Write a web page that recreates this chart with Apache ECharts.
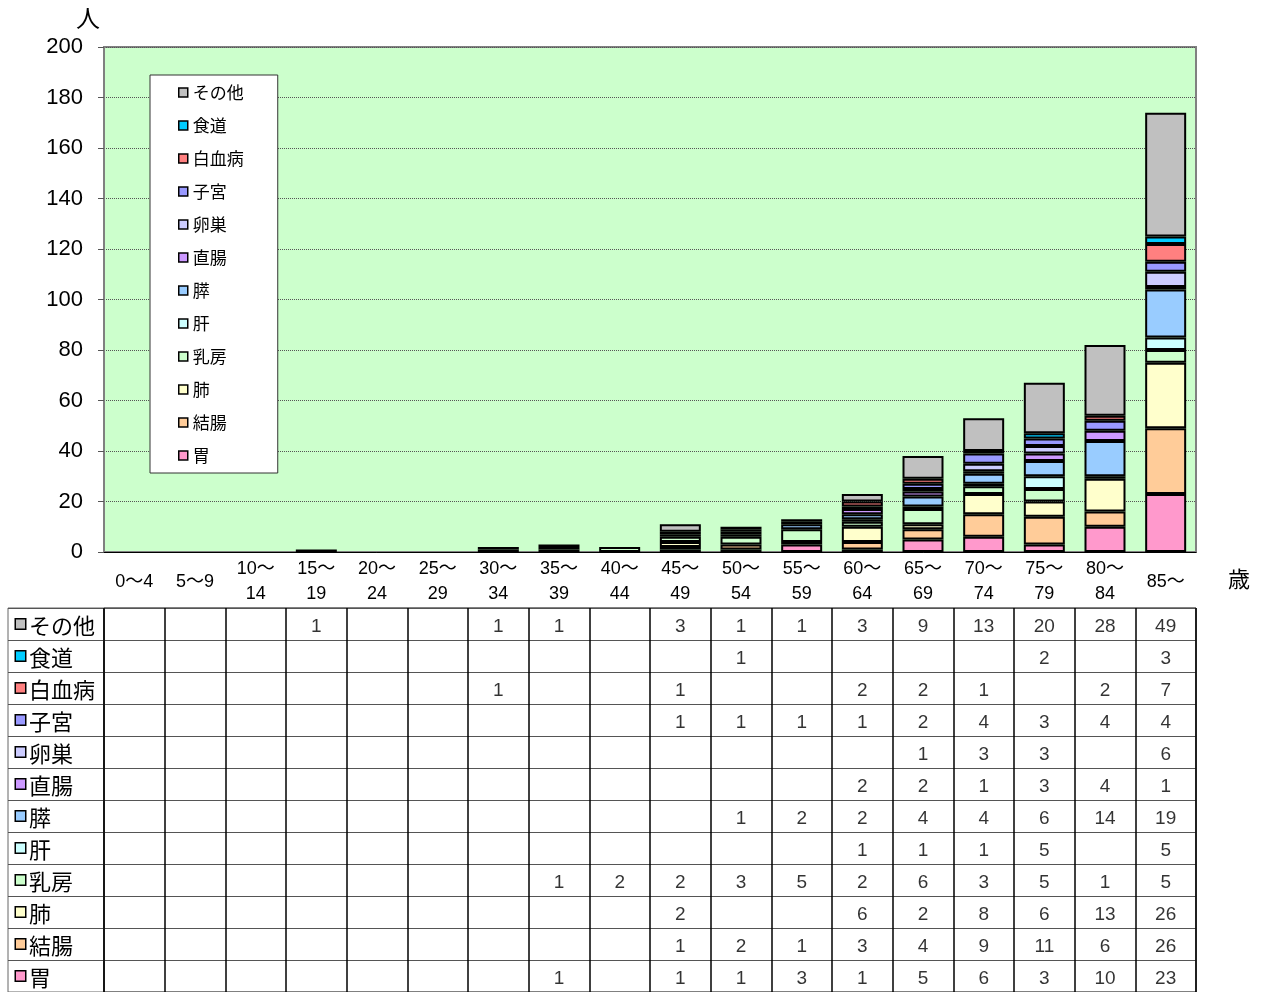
<!DOCTYPE html>
<html>
<head>
<meta charset="utf-8">
<script src="https://cdn.jsdelivr.net/npm/echarts@6/dist/echarts.min.js"></script>
<style>
  html, body { margin: 0; padding: 0; background: #fff; }
  #chart { width: 1267px; height: 992px; }
</style>
</head>
<body>
<div id="chart"></div>
<script>
const _ = null;

// 年齢階級
const ages = ["0〜4", "5〜9", "10〜14", "15〜19", "20〜24", "25〜29", "30〜34", "35〜39", "40〜44",
  "45〜49", "50〜54", "55〜59", "60〜64", "65〜69", "70〜74", "75〜79", "80〜84", "85〜"];
const ageLabels = ["0〜4", "5〜9", "10〜\n14", "15〜\n19", "20〜\n24", "25〜\n29", "30〜\n34", "35〜\n39", "40〜\n44",
  "45〜\n49", "50〜\n54", "55〜\n59", "60〜\n64", "65〜\n69", "70〜\n74", "75〜\n79", "80〜\n84", "85〜"];

// 部位別（人）
const sonota   = [_, _, _, 1, _, _, 1, 1, _, 3, 1, 1, 3, 9, 13, 20, 28, 49];
const shokudo  = [_, _, _, _, _, _, _, _, _, _, 1, _, _, _, _, 2, _, 3];
const hakketsu = [_, _, _, _, _, _, 1, _, _, 1, _, _, 2, 2, 1, _, 2, 7];
const shikyu   = [_, _, _, _, _, _, _, _, _, 1, 1, 1, 1, 2, 4, 3, 4, 4];
const ransou   = [_, _, _, _, _, _, _, _, _, _, _, _, _, 1, 3, 3, _, 6];
const chokucho = [_, _, _, _, _, _, _, _, _, _, _, _, 2, 2, 1, 3, 4, 1];
const sui      = [_, _, _, _, _, _, _, _, _, _, 1, 2, 2, 4, 4, 6, 14, 19];
const kan      = [_, _, _, _, _, _, _, _, _, _, _, _, 1, 1, 1, 5, _, 5];
const nyubo    = [_, _, _, _, _, _, _, 1, 2, 2, 3, 5, 2, 6, 3, 5, 1, 5];
const hai      = [_, _, _, _, _, _, _, _, _, 2, _, _, 6, 2, 8, 6, 13, 26];
const ketcho   = [_, _, _, _, _, _, _, _, _, 1, 2, 1, 3, 4, 9, 11, 6, 26];
const i_       = [_, _, _, _, _, _, _, 1, _, 1, 1, 3, 1, 5, 6, 3, 10, 23];

// 表・凡例の並び（上から）
const names  = ["その他", "食道", "白血病", "子宮", "卵巣", "直腸", "膵", "肝", "乳房", "肺", "結腸", "胃"];
const values = [sonota, shokudo, hakketsu, shikyu, ransou, chokucho, sui, kan, nyubo, hai, ketcho, i_];
const colors = ["#c0c0c0", "#00ccff", "#ff8080", "#9999ff", "#ccccff", "#cc99ff",
  "#99ccff", "#ccffff", "#ccffcc", "#ffffcc", "#ffcc99", "#ff99cc"];

const font = "'Liberation Sans', 'Noto Sans CJK JP', sans-serif";
const jpFont = "'Noto Sans CJK JP', sans-serif";

let chart = echarts.init(document.getElementById("chart"));

// 積み上げ（下から胃）
let barSeries = [];
for (let k = names.length - 1; k >= 0; k--) {
  barSeries.push({
    name: names[k],
    type: "bar",
    stack: "total",
    xAxisIndex: 0,
    yAxisIndex: 0,
    barWidth: 41,
    data: values[k],
    itemStyle: { color: colors[k], borderColor: "#000", borderWidth: 2 },
  });
}

// 表のセル
let cells = [];
values.forEach((row, r) => {
  row.forEach((v, c) => {
    if (v !== null) cells.push([c, r, v]);
  });
});

let rich = { t: { fontSize: 22, fontFamily: jpFont, color: "#000", padding: [3, 0, 0, 4] } };
colors.forEach((c, k) => {
  rich["c" + k] = { width: 9, height: 9, backgroundColor: c, borderColor: "#000", borderWidth: 1.5 };
});

let option = {
  animation: false,
  backgroundColor: "#fff",
  grid: [
    { left: 104, top: 47, width: 1092, height: 505, show: true, backgroundColor: "#ccffcc", borderColor: "#808080", borderWidth: 2 },
    { left: 8, top: 608, width: 96, height: 389, show: true, borderColor: "#666", borderWidth: 1 },
    { left: 104, top: 608, width: 1092, height: 389, show: true, borderColor: "#000", borderWidth: 1 },
  ],
  legend: {
    left: 150,
    top: 75,
    orient: "vertical",
    data: names,
    backgroundColor: "#fff",
    borderColor: "#333",
    borderWidth: 1,
    padding: [9, 34, 9, 28],
    itemGap: 16,
    itemWidth: 9,
    itemHeight: 9,
    icon: "rect",
    itemStyle: { borderColor: "#000", borderWidth: 1.5 },
    textStyle: { fontSize: 17, color: "#000", fontFamily: jpFont, lineHeight: 17 },
  },
  xAxis: [
    {
      gridIndex: 0,
      type: "category",
      data: ageLabels,
      axisLine: { lineStyle: { color: "#000", width: 1 } },
      axisTick: { length: 56, interval: 0, lineStyle: { color: "#666" } },
      axisLabel: { interval: 0, margin: 30, verticalAlign: "middle", fontSize: 18, lineHeight: 25, color: "#000", fontFamily: font },
    },
    { gridIndex: 1, type: "value", show: false },
    {
      gridIndex: 2,
      type: "category",
      data: ages,
      axisLine: { show: false },
      axisTick: { show: false },
      axisLabel: { show: false },
      splitLine: { show: true, interval: 0, lineStyle: { color: "#000", width: 1.5 } },
    },
  ],
  yAxis: [
    {
      gridIndex: 0,
      type: "value",
      min: 0,
      max: 200,
      interval: 20,
      axisLine: { show: true, lineStyle: { color: "#808080", width: 2 } },
      axisTick: { show: true, length: 6, lineStyle: { color: "#555" } },
      axisLabel: { fontSize: 22, margin: 21, color: "#000", fontFamily: font },
      splitLine: { lineStyle: { type: "dotted", color: "#555", width: 1 } },
    },
    {
      gridIndex: 1,
      type: "category",
      inverse: true,
      data: names,
      axisLine: { show: false },
      axisTick: { show: false },
      axisLabel: {
        inside: true,
        margin: 8,
        interval: 0,
        formatter: (v, idx) => "{c" + idx + "|}{t|" + v + "}",
        rich: rich,
      },
      splitLine: { show: true, interval: 0, lineStyle: { color: "#555" } },
    },
    {
      gridIndex: 2,
      type: "category",
      inverse: true,
      data: names,
      axisLine: { show: false },
      axisTick: { show: false },
      axisLabel: { show: false },
      splitLine: { show: true, interval: 0, lineStyle: { color: "#555" } },
    },
  ],
  graphic: [
    { type: "text", left: 76, top: 6, style: { text: "人", fontSize: 24, fill: "#000", fontFamily: jpFont } },
    { type: "text", left: 1228, top: 568, style: { text: "歳", fontSize: 22, fill: "#000", fontFamily: jpFont } },
  ],
  series: barSeries.concat([
    {
      type: "scatter",
      xAxisIndex: 2,
      yAxisIndex: 2,
      symbolSize: 1,
      silent: true,
      itemStyle: { color: "rgba(0,0,0,0)" },
      label: { show: true, position: "inside", offset: [0, 3], formatter: (p) => p.value[2], fontSize: 19, color: "#000", fontFamily: font },
      data: cells,
    },
  ]),
};

chart.setOption(option);
</script>
</body>
</html>
